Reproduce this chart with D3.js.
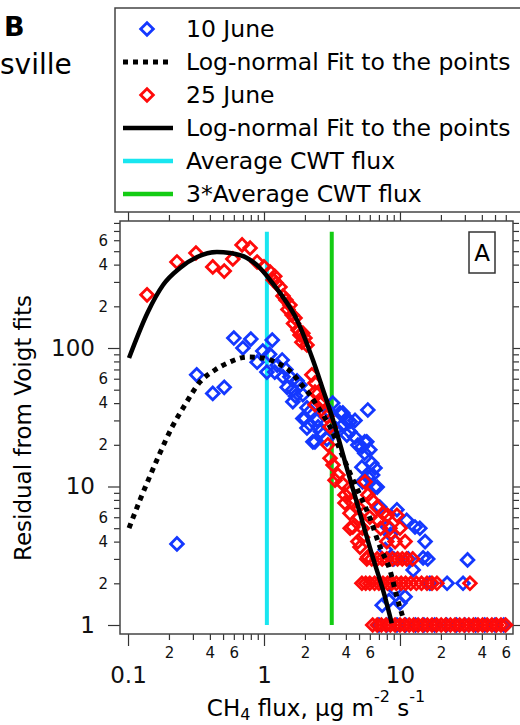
<!DOCTYPE html>
<html>
<head>
<meta charset="utf-8">
<script src="https://cdn.jsdelivr.net/npm/d3@7"></script>
<style>
  body { margin: 0; background: #fff; }
  svg { display: block; font-family: "DejaVu Sans", sans-serif; }
</style>
</head>
<body>
<svg id="chart" width="520" height="725"></svg>
<script>
// 10 June: [flux, residual]
const june10 = [
  [0.229, 3.85], [0.32, 64], [0.42, 47], [0.51, 52], [0.60, 118], [0.70, 100], [0.80, 116],
  [0.89, 79], [0.98, 95], [1.05, 67], [1.1, 90], [1.15, 114], [1.2, 67], [1.25, 75],
  [1.36, 82], [1.38, 62], [1.45, 70], [1.48, 52], [1.55, 62], [1.63, 50], [1.63, 41],
  [1.7, 45], [1.75, 58], [1.84, 54], [1.93, 46], [1.93, 31],
  [2.0, 31], [2.07, 37], [2.07, 26.5], [2.18, 28], [2.2, 35], [2.29, 21], [2.37, 21], [2.45, 30],
  [2.5, 27], [2.6, 25], [2.9, 22], [3.0, 35], [3.2, 40], [3.4, 26], [3.62, 34], [3.8, 34], [3.8, 27.8],
  [4.07, 30], [4.07, 23.5], [4.29, 24.8], [4.29, 29.5], [4.67, 30], [4.67, 22.7], [4.9, 19.9],
  [5.25, 19.3], [5.25, 13.8], [5.3, 10.8], [5.5, 21], [5.5, 17.4], [5.7, 21], [5.8, 35.7],
  [5.8, 11.7], [6.0, 18.4], [6.2, 14.7], [6.3, 12.1], [6.55, 13.6], [6.55, 9.9], [6.8, 9.9],
  [7.1, 7.1], [7.4, 1.39], [7.8, 3.5], [8.1, 5.1], [8.3, 1.5], [8.5, 4.5], [9.0, 3],
  [9.2, 1.8], [9.5, 6.8], [10, 1.44], [10.9, 1.6], [11.2, 5.7], [11.5, 3], [12.5, 2.5],
  [12.9, 5.1], [14, 5], [14.8, 3.05], [15.3, 4], [16, 3], [16.6, 2], [22.2, 2], [29.1, 2],
  [31.4, 2.95],
  [7, 1], [8, 1], [9.5, 1], [11, 1], [13, 1], [15, 1], [18, 1], [22, 1], [26, 1], [30, 1],
  [36, 1], [42, 1], [50, 1], [58, 1]
];

// 25 June: [flux, residual]
const june25 = [
  [0.138, 242], [0.229, 418], [0.316, 485], [0.42, 385], [0.51, 359], [0.59, 440], [0.69, 555],
  [0.79, 527], [0.89, 418], [1.0, 385], [1.11, 354], [1.17, 310], [1.2, 330], [1.23, 295], [1.31, 276],
  [1.38, 237], [1.45, 222], [1.5, 190], [1.55, 204], [1.61, 173], [1.65, 150], [1.69, 165],
  [1.78, 135], [1.84, 124], [1.9, 110],
  [1.93, 128], [2.0, 118], [2.07, 105], [2.25, 64], [2.37, 56], [2.37, 48], [2.37, 39],
  [2.49, 47], [2.58, 40], [2.66, 41], [2.81, 34], [2.9, 32], [3.06, 27],
  [2.95, 20], [3.06, 16], [3.22, 14.3], [3.33, 11.1], [3.5, 12.1], [3.74, 10.6], [3.94, 8.7],
  [3.94, 7.6], [4.29, 9.1], [4.29, 6.4], [4.3, 5], [4.5, 7.6], [4.5, 5.1], [4.9, 7.1],
  [4.9, 4], [5.0, 6], [5.08, 3.65], [5.3, 4.3], [5.3, 5], [5.53, 10.8], [5.8, 8.7], [5.8, 3.1],
  [6.0, 6], [6.2, 8], [6.8, 7.1], [6.9, 5.7], [7.2, 5], [7.5, 6.4], [8.0, 4], [8.1, 6.2],
  [8.44, 5], [9.2, 4], [9.5, 6.2], [10, 5], [10.9, 4],
  [5.7, 3], [6.2, 3], [6.8, 3], [7.4, 3], [8.0, 3], [8.8, 3], [9.6, 3], [10.4, 3], [11.2, 3], [12.4, 3],
  [5.25, 2], [5.6, 2], [6.0, 2], [6.5, 2], [7.0, 2], [7.5, 2], [8.1, 2], [8.7, 2], [9.4, 2],
  [10.2, 2], [11.0, 2], [12.0, 2], [13.2, 2], [14.4, 2], [15.8, 2], [17.2, 2], [18.7, 2], [32.7, 2],
  [6.3, 1], [6.8, 1], [7.3, 1], [7.9, 1], [8.5, 1], [9.2, 1], [10, 1], [10.8, 1], [11.7, 1],
  [12.6, 1], [13.6, 1], [14.7, 1], [15.9, 1], [17.2, 1], [18.6, 1], [20.1, 1], [21.7, 1],
  [23.5, 1], [25.4, 1], [27.5, 1], [29.7, 1], [32.1, 1], [34.7, 1], [37.5, 1], [40.5, 1],
  [43.8, 1], [47.4, 1], [51.2, 1], [55.3, 1], [59.8, 1]
];

// Log-normal fits
const fit10 = [
  [0.1017, 5.0], [0.1225, 8.0], [0.145, 11.9], [0.172, 17.5], [0.211, 26.9], [0.262, 38.8],
  [0.338, 56.9], [0.436, 69.4], [0.562, 79.3], [0.75, 86], [0.983, 84.7], [1.25, 78],
  [1.61, 66], [1.84, 55.9], [2.18, 45.8], [2.49, 37.5], [2.81, 31.2], [3.06, 26.9],
  [3.62, 18.4], [4.29, 12.5], [5.08, 8.7], [6.02, 5.9], [7.13, 3.66], [8.44, 2.49],
  [9.5, 1.59], [10.5, 1.14]
];
const fit25 = [
  [0.1017, 84.7], [0.140, 182], [0.181, 285], [0.241, 378], [0.322, 454], [0.451, 493],
  [0.562, 485], [0.75, 447], [0.935, 378], [1.107, 310], [1.31, 250], [1.75, 159],
  [2.29, 81.9], [2.72, 49.8], [3.22, 30.2], [4.08, 13.4], [4.83, 7.6], [6.2, 3.26],
  [7.76, 1.59], [8.7, 1.03]
];

// Average CWT flux and 3x that
const cwtFlux = [1.05, 3.15];
const cwtRange = [1, 690];

const legendLabels = ["10 June", "Log-normal Fit to the points", "25 June",
                      "Log-normal Fit to the points", "Average CWT flux", "3*Average CWT flux"];

const xMajor = [0.1, 1, 10];
const xMinor = [0.2, 0.3, 0.4, 0.5, 0.6, 0.7, 0.8, 0.9, 2, 3, 4, 5, 6, 7, 8, 9,
                20, 30, 40, 50, 60];
const yMajor = [1, 10, 100];
const yMinor = [2, 3, 4, 5, 6, 7, 8, 9, 20, 30, 40, 50, 60, 70, 80, 90,
                200, 300, 400, 500, 600, 700, 800];
const labelledDigits = [2, 4, 6];

const blue = "#1438ff", red = "#ff0a0a", cyan = "#19e6f0", green = "#14cc14";

const svg = d3.select("#chart");

const x = d3.scaleLog().domain([0.0873, 67.8]).range([120, 513]);
const y = d3.scaleLog().domain([0.861, 826]).range([634, 221]);

// Kopfzeile links oben
svg.append("text").attr("x", 4).attr("y", 36)
   .attr("font-size", 27).attr("font-weight", "bold").text("B");
svg.append("text").attr("x", 0).attr("y", 74)
   .attr("font-size", 28).text("sville");

// minor tick label: only 2, 4, 6
function minorLabel(d) {
  const lead = Math.round(d / Math.pow(10, Math.floor(Math.log10(d) + 1e-9)));
  return labelledDigits.includes(lead) ? String(lead) : "";
}

function styleAxis(g, size) {
  g.attr("font-size", null).attr("font-family", null).attr("color", "#333");
  g.select(".domain").remove();
  g.selectAll("line").attr("stroke-width", 1.2);
  g.selectAll("text").attr("font-size", size).attr("fill", "#111");
}

// Achsen
svg.append("g").attr("transform", "translate(0,634)")
   .call(d3.axisBottom(x).tickValues(xMinor).tickSize(6).tickPadding(7).tickFormat(minorLabel))
   .call(g => styleAxis(g, 15));
svg.append("g").attr("transform", "translate(0,634)")
   .call(d3.axisBottom(x).tickValues(xMajor).tickSize(12).tickPadding(21).tickFormat(d => String(d)))
   .call(g => styleAxis(g, 23));
svg.append("g").attr("transform", "translate(120,0)")
   .call(d3.axisLeft(y).tickValues(yMinor).tickSize(6).tickPadding(6).tickFormat(minorLabel))
   .call(g => styleAxis(g, 15));
svg.append("g").attr("transform", "translate(120,0)")
   .call(d3.axisLeft(y).tickValues(yMajor).tickSize(12).tickPadding(13).tickFormat(d => String(d)))
   .call(g => styleAxis(g, 23));
svg.append("g").attr("transform", "translate(0,221)")
   .call(d3.axisTop(x).tickValues(xMinor).tickSize(6).tickFormat(""))
   .call(g => styleAxis(g, 15));
svg.append("g").attr("transform", "translate(0,221)")
   .call(d3.axisTop(x).tickValues(xMajor).tickSize(12).tickFormat(""))
   .call(g => styleAxis(g, 15));
svg.append("g").attr("transform", "translate(513,0)")
   .call(d3.axisRight(y).tickValues(yMinor).tickSize(6).tickFormat(""))
   .call(g => styleAxis(g, 15));
svg.append("g").attr("transform", "translate(513,0)")
   .call(d3.axisRight(y).tickValues(yMajor).tickSize(12).tickFormat(""))
   .call(g => styleAxis(g, 15));

// Rahmen
svg.append("rect")
   .attr("x", 120).attr("y", 221).attr("width", 393).attr("height", 413)
   .attr("fill", "none").attr("stroke", "#444").attr("stroke-width", 1.5);

// Achsentitel
svg.append("text")
   .attr("transform", "translate(31,428) rotate(-90)")
   .attr("text-anchor", "middle").attr("font-size", 23)
   .text("Residual from Voigt fits");

const xt = svg.append("text").attr("x", 316).attr("y", 716)
   .attr("text-anchor", "middle").attr("font-size", 23);
xt.append("tspan").text("CH");
xt.append("tspan").attr("font-size", 16).attr("dy", 4).text("4");
xt.append("tspan").attr("dy", -4).text(" flux, \u03bcg m");
xt.append("tspan").attr("font-size", 16).attr("dy", -14).text("-2");
xt.append("tspan").attr("dy", 14).text(" s");
xt.append("tspan").attr("font-size", 16).attr("dy", -14).text("-1");

// CWT-Linien
const plot = svg.append("g");
plot.selectAll(".cwt")
    .data(cwtFlux)
    .enter().append("line")
    .attr("x1", d => x(d)).attr("x2", d => x(d))
    .attr("y1", y(cwtRange[0])).attr("y2", y(cwtRange[1]))
    .attr("stroke", (d, i) => i === 0 ? cyan : green)
    .attr("stroke-width", 4);

const diamond = d3.symbol(d3.symbolSquare, 80);

function drawPoints(data, color) {
  plot.append("g").selectAll("path")
      .data(data)
      .enter().append("path")
      .attr("d", diamond)
      .attr("transform", d => `translate(${x(d[0])},${y(d[1])}) rotate(45)`)
      .attr("fill", "none")
      .attr("stroke", color)
      .attr("stroke-width", 2.8);
}
drawPoints(june10, blue);
drawPoints(june25, red);

const line = d3.line().x(d => x(d[0])).y(d => y(d[1])).curve(d3.curveMonotoneX);

plot.append("path").datum(fit10)
    .attr("d", line).attr("fill", "none").attr("stroke", "#000")
    .attr("stroke-width", 5).attr("stroke-dasharray", "5,5");
plot.append("path").datum(fit25)
    .attr("d", line).attr("fill", "none").attr("stroke", "#000")
    .attr("stroke-width", 4.5);

// Kennzeichnung "A"
svg.append("rect").attr("x", 469).attr("y", 232).attr("width", 26).attr("height", 41)
   .attr("fill", "#fff").attr("stroke", "#333").attr("stroke-width", 1.5);
svg.append("text").attr("x", 482).attr("y", 261).attr("text-anchor", "middle")
   .attr("font-size", 23).text("A");

// Legende
const legend = svg.append("g");
legend.append("rect").attr("x", 115).attr("y", 8).attr("width", 408).attr("height", 204)
      .attr("fill", "#fff").attr("stroke", "#444").attr("stroke-width", 1.5);

const legendItem = legend.selectAll(".legend-item")
    .data(legendLabels)
    .enter().append("g")
    .attr("class", "legend-item")
    .attr("transform", (d, i) => `translate(0, ${37 + i * 33})`);

legendItem.append("text").attr("x", 186).attr("font-size", 23.5).text(d => d);

legendItem.each(function(d, i) {
  const g = d3.select(this);
  if (i === 0 || i === 2) {
    g.append("path").attr("d", diamond)
     .attr("transform", "translate(147,-8) rotate(45)")
     .attr("fill", "none").attr("stroke", i === 0 ? blue : red).attr("stroke-width", 2.8);
  } else {
    const stroke = i === 4 ? cyan : i === 5 ? green : "#000";
    const ln = g.append("line").attr("x1", 123).attr("x2", 173).attr("y1", -8).attr("y2", -8)
     .attr("stroke", stroke).attr("stroke-width", i === 1 ? 5 : 4.5);
    if (i === 1) ln.attr("stroke-dasharray", "5,5");
  }
});
</script>
</body>
</html>
